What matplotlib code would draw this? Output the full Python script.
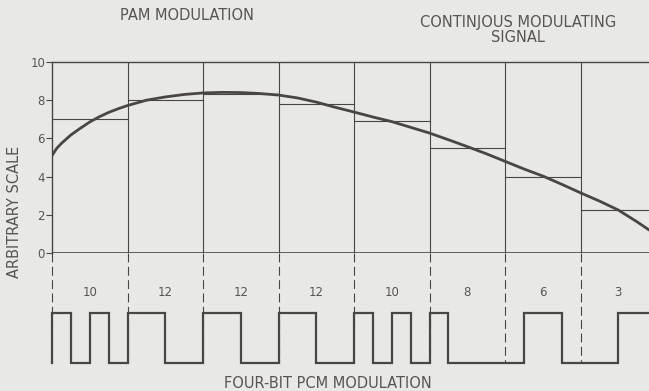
import numpy as np
import matplotlib
matplotlib.use("Agg")
import matplotlib.pyplot as plt

# Sampling intervals (one column per sample period)
pam_levels = [7.0, 8.02, 8.35, 7.82, 6.93, 5.5, 4.0, 2.25]
pcm_codes = [10, 12, 12, 12, 10, 8, 6, 3]

# Continuous modulating signal, time in sample periods
signal_t = [0.0, 0.0625, 0.125, 0.25, 0.375, 0.5, 0.625, 0.75, 0.875, 1.0,
            1.25, 1.5, 1.75, 2.0, 2.25, 2.5, 2.75, 3.0, 3.25, 3.5, 3.75,
            4.0, 4.25, 4.5, 4.75, 5.0, 5.25, 5.5, 5.75, 6.0, 6.25, 6.5,
            6.75, 7.0, 7.25, 7.5, 7.75, 7.91]
signal_v = [5.1, 5.48, 5.74, 6.18, 6.53, 6.86, 7.13, 7.36, 7.55, 7.72,
            8.0, 8.17, 8.3, 8.38, 8.41, 8.4, 8.35, 8.27, 8.12, 7.9, 7.63,
            7.38, 7.12, 6.88, 6.58, 6.28, 5.93, 5.57, 5.2, 4.8, 4.4, 4.03,
            3.6, 3.15, 2.72, 2.25, 1.63, 1.2]

yticks = [0, 2, 4, 6, 8, 10]

BG = "#e8e8e4"
INK = "#4a4545"
TXT = "#595454"
FONT = "DejaVu Sans"

W, H = 649, 391
fig = plt.figure(figsize=(W / 100, H / 100), dpi=100, facecolor=BG)
x0, x1, ytop, ybot = 52, 649, 62, 253
ax = fig.add_axes([x0 / W, 1 - ybot / H, (x1 - x0) / W, (ybot - ytop) / H])
ax.set_facecolor(BG)
ax.patch.set_alpha(0)

n = len(pam_levels)
ax.set_xlim(0, 7.907)
ax.set_ylim(0, 10)

for s in ["right", "bottom"]:
    ax.spines[s].set_visible(False)
for s in ["left", "top"]:
    ax.spines[s].set_color(INK)
    ax.spines[s].set_linewidth(1.0)
ax.axhline(0, color=INK, lw=1.2)

ax.set_xticks([])
ax.set_yticks(yticks)
ax.set_yticklabels([str(v) for v in yticks], fontsize=8.5, color=TXT,
                   family=FONT)
ax.tick_params(axis="y", direction="out", length=4, width=0.8, color=INK,
               labelcolor=TXT, pad=1)

# Interval boundaries and PAM sample levels
for i in range(1, n + 1):
    ax.plot([i, i], [0, 10], color=INK, lw=0.8)
for i, v in enumerate(pam_levels):
    ax.plot([i, i + 1], [v, v], color=INK, lw=0.8)

# Continuous modulating signal
ax.plot(signal_t, signal_v, color=INK, lw=2.0, solid_capstyle="round",
        solid_joinstyle="round")

# Four-bit PCM pulse train below the axis
hi, lo = -3.14, -5.76
bits = []
for c in pcm_codes:
    bits += [int(b) for b in format(c, "04b")]
tx = [0.0]
ty = [lo]
for k, b in enumerate(bits):
    lvl = hi if b else lo
    tx += [k * 0.25, (k + 1) * 0.25]
    ty += [lvl, lvl]
ax.plot(tx, ty, color=INK, lw=1.6, clip_on=False, solid_joinstyle="miter")

for i in range(n):
    ax.plot([i, i], [0, lo], color=INK, lw=0.8, ls=(0, (8, 4)), clip_on=False)
    ax.text(i + 0.5, -2.09, str(pcm_codes[i]), ha="center", va="center",
            fontsize=8.5, color=TXT, family=FONT, clip_on=False)

lab = dict(ha="center", va="center", fontsize=10.5, color=TXT, family=FONT)
fig.text(187 / W, 1 - 16 / H, "PAM MODULATION", **lab)
fig.text(518 / W, 1 - 22 / H, "CONTINJOUS MODULATING", **lab)
fig.text(518 / W, 1 - 38 / H, "SIGNAL", **lab)
fig.text(328 / W, 1 - 383 / H, "FOUR-BIT PCM MODULATION", **lab)
fig.text(15 / W, 1 - 212 / H, "ARBITRARY SCALE", rotation=90, **lab)

fig.savefig("out.png", dpi=100, facecolor=BG)
